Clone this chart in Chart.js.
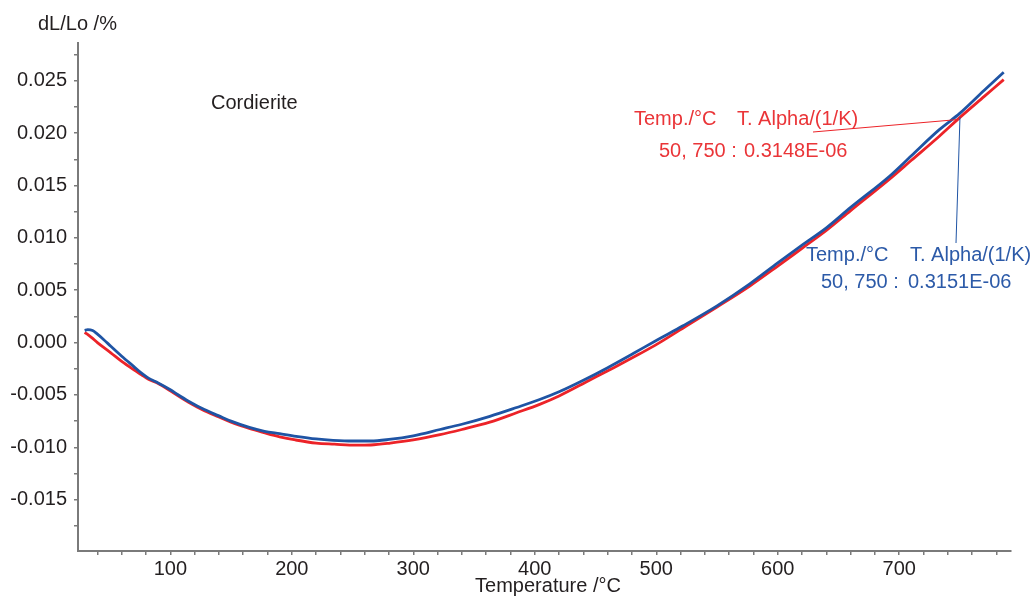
<!DOCTYPE html>
<html>
<head>
<meta charset="utf-8">
<title>Cordierite dilatometry</title>
<script src="https://cdn.jsdelivr.net/npm/chart.js@4.4.1/dist/chart.umd.min.js"></script>
<style>
  html, body { margin: 0; padding: 0; background: #fff; }
  #wrap { width: 1034px; height: 597px; }
</style>
</head>
<body>
<div id="wrap"><canvas id="dil" width="1034" height="597"></canvas></div>
<script>
// blue run (drawn on top)
const blueTemp = [29.5, 32, 36, 40, 45, 51, 60, 70, 76, 82, 90, 100, 106, 115, 128, 140, 150, 165, 177.5, 190,
  203.5, 220, 234, 250, 265, 280, 300, 322, 340, 363, 385, 404, 420, 440, 460, 481, 500, 522, 550, 577,
  600, 620, 640, 660, 692, 710, 733, 750, 770, 786];
const blueDl = [0.00115, 0.00124, 0.00115, 0.0008, 0.0003, -0.00035, -0.0013, -0.0023, -0.0029, -0.0034,
  -0.00385, -0.0045, -0.00496, -0.0056, -0.0064, -0.0070, -0.0075, -0.0081, -0.00847, -0.0087,
  -0.00895, -0.0092, -0.00933, -0.0094, -0.0094, -0.00925, -0.0089, -0.0083, -0.0078, -0.00704,
  -0.0062, -0.00544, -0.0047, -0.0036, -0.0024, -0.00105, 0.0002, 0.0016, 0.0035, 0.0056,
  0.0076, 0.0093, 0.01095, 0.0129, 0.01588, 0.01784, 0.02033, 0.0219, 0.02409, 0.0258];

// red run
const redTemp = [29.5, 35, 40, 51, 60, 70, 76, 82, 90, 100, 115, 128, 140, 150, 165, 177, 190, 203, 220, 235,
  253, 265, 281, 300, 322, 340, 363, 385, 404, 420, 445, 465, 486, 500, 525, 550, 577,
  600, 620, 640, 660, 692, 710, 733, 750, 770, 786];
const redDl = [0.00098, 0.0005, 0.0, -0.00098, -0.0018, -0.0026, -0.00305, -0.0035, -0.0039, -0.0046,
  -0.0057, -0.0065, -0.0071, -0.0076, -0.0082, -0.0086, -0.0090, -0.0093, -0.0096, -0.0097,
  -0.0098, -0.00978, -0.0096, -0.0093, -0.0088, -0.0083, -0.0076, -0.0067, -0.0059, -0.0051,
  -0.0036, -0.0024, -0.0011, -0.0002, 0.0016, 0.0034, 0.0054,
  0.0073, 0.0090, 0.0107, 0.0126, 0.0156, 0.0174, 0.0197, 0.0215, 0.0235, 0.0251];

const xTickLabels = [100, 200, 300, 400, 500, 600, 700];
const yTickLabels = [-0.015, -0.010, -0.005, 0.000, 0.005, 0.010, 0.015, 0.020, 0.025];

const redNote = ['Temp./°C', 'T. Alpha/(1/K)', '50, 750 :', '0.3148E-06'];
const blueNote = ['Temp./°C', 'T. Alpha/(1/K)', '50, 750 :', '0.3151E-06'];
const noteTemp = 750;

const RED = '#ec2328';
const RED_TXT = '#ea3538';
const BLUE = '#1f54a4';
const BLUE_TXT = '#2c5aa8';
const AXIS = '#7a7a7a';
const TXT = '#231f20';
const FONT = '"Liberation Sans", Arial, sans-serif';

function pairs(xs, ys) {
  return xs.map((x, i) => ({ x: x, y: ys[i] }));
}

// minor ticks sit between the labelled ones
const xMinor = [];
for (let t = 40; t <= 780; t += 20) xMinor.push(t);
const yMinor = [];
for (let k = -7; k <= 11; k++) yMinor.push(+(k * 0.0025).toFixed(4));

const annotations = {
  id: 'annotations',
  afterDatasetsDraw(chart) {
    const { ctx, scales } = chart;
    const xs = scales.x, ys = scales.y;
    ctx.save();
    ctx.font = '20px ' + FONT;
    ctx.textBaseline = 'middle';
    ctx.textAlign = 'left';

    ctx.fillStyle = TXT;
    ctx.fillText('dL/Lo /%', 38, 24);
    ctx.fillText('Cordierite', 211, 103);
    ctx.textAlign = 'center';
    ctx.fillText('Temperature /°C', 548, 586);
    ctx.textAlign = 'left';

    const px = xs.getPixelForValue(noteTemp);
    const redY = ys.getPixelForValue(redDl[redTemp.indexOf(noteTemp)]);
    const blueY = ys.getPixelForValue(blueDl[blueTemp.indexOf(noteTemp)]);

    // red note + leader
    ctx.fillStyle = RED_TXT;
    ctx.fillText(redNote[0], 634, 119);
    ctx.fillText(redNote[1], 737, 119);
    ctx.fillText(redNote[2], 659, 151);
    ctx.fillText(redNote[3], 744, 151);
    ctx.strokeStyle = RED;
    ctx.lineWidth = 1;
    ctx.beginPath();
    ctx.moveTo(813, 132);
    ctx.lineTo(px, redY + 2);
    ctx.stroke();

    // blue note + leader
    ctx.fillStyle = BLUE_TXT;
    ctx.fillText(blueNote[0], 806, 255);
    ctx.fillText(blueNote[1], 910, 255);
    ctx.fillText(blueNote[2], 821, 282);
    ctx.fillText(blueNote[3], 908, 282);
    ctx.strokeStyle = BLUE;
    ctx.beginPath();
    ctx.moveTo(px, blueY + 4);
    ctx.lineTo(956, 243);
    ctx.stroke();
    ctx.restore();
  }
};

new Chart(document.getElementById('dil'), {
  type: 'line',
  data: {
    datasets: [
      {
        label: 'blue',
        data: pairs(blueTemp, blueDl),
        borderColor: BLUE,
        borderWidth: 2.8,
        pointRadius: 0,
        cubicInterpolationMode: 'monotone',
        fill: false
      },
      {
        label: 'red',
        data: pairs(redTemp, redDl),
        borderColor: RED,
        borderWidth: 2.8,
        pointRadius: 0,
        cubicInterpolationMode: 'monotone',
        fill: false
      }
    ]
  },
  options: {
    responsive: false,
    animation: false,
    devicePixelRatio: 1,
    layout: { padding: { top: 43, right: 23, left: 0, bottom: 0 } },
    plugins: {
      legend: { display: false },
      tooltip: { enabled: false }
    },
    scales: {
      x: {
        type: 'linear',
        min: 24,
        max: 792,
        afterBuildTicks(scale) {
          scale.ticks = xMinor.map(v => ({ value: v }));
        },
        afterFit(scale) { scale.height = 46; },
        grid: { drawOnChartArea: false, tickLength: 4, color: AXIS, lineWidth: 1.5 },
        border: { display: true, color: AXIS, width: 2 },
        ticks: {
          autoSkip: false,
          maxRotation: 0,
          padding: 2,
          color: TXT,
          font: { family: FONT, size: 20 },
          callback: v => (xTickLabels.includes(v) ? String(v) : '')
        }
      },
      y: {
        type: 'linear',
        min: -0.0199,
        max: 0.0286,
        afterBuildTicks(scale) {
          scale.ticks = yMinor.map(v => ({ value: v }));
        },
        afterFit(scale) { scale.width = 78; },
        grid: { drawOnChartArea: false, tickLength: 4, color: AXIS, lineWidth: 1.5 },
        border: { display: true, color: AXIS, width: 2 },
        ticks: {
          autoSkip: false,
          padding: 7,
          color: TXT,
          font: { family: FONT, size: 20 },
          callback: v => (yTickLabels.some(t => Math.abs(t - v) < 1e-9) ? v.toFixed(3) : '')
        }
      }
    }
  },
  plugins: [annotations]
});
</script>
</body>
</html>
